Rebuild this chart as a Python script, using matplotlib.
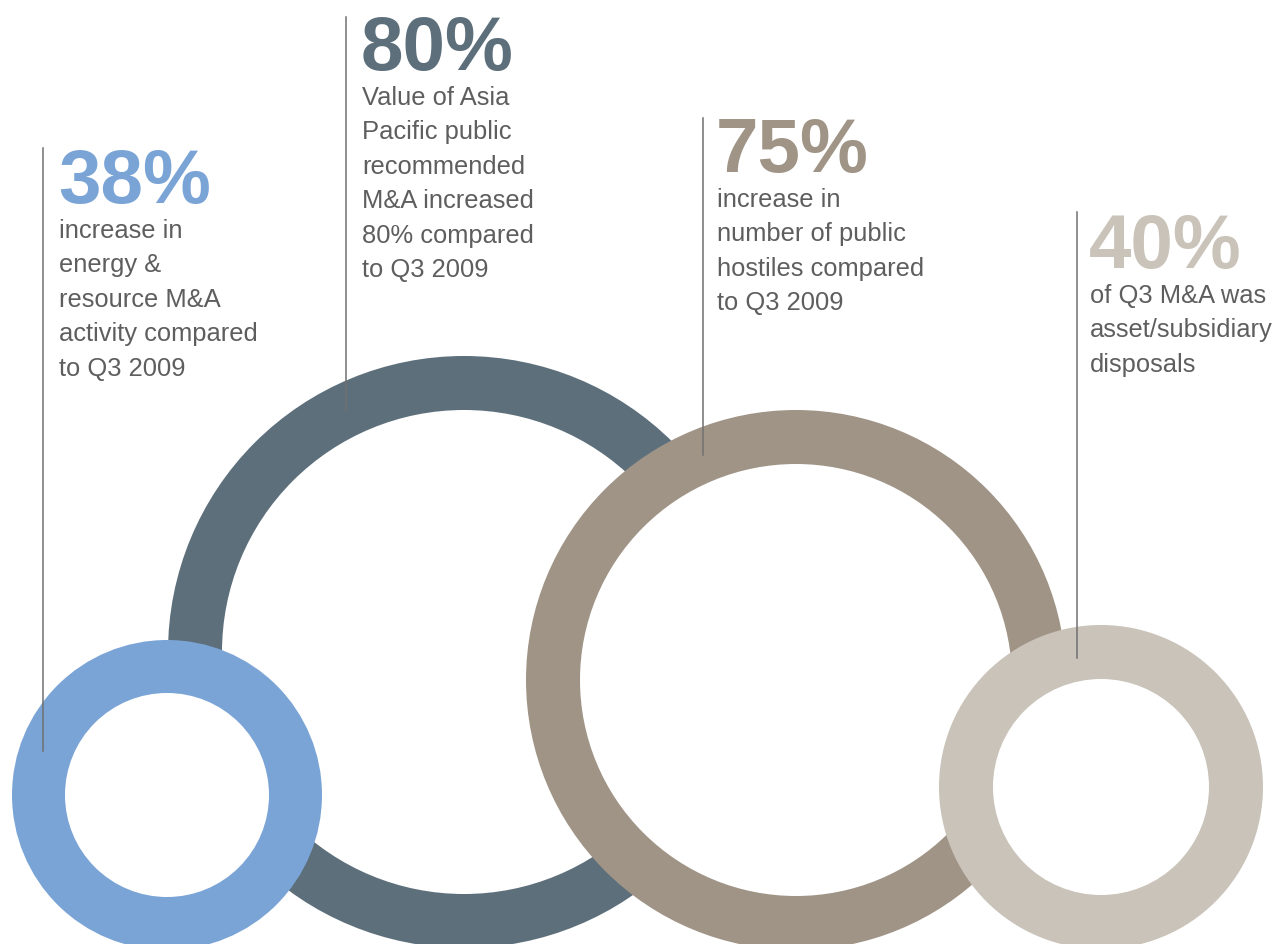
import matplotlib.pyplot as plt
from matplotlib.patches import Circle

# figures for each stat
values = [38, 80, 75, 40]
captions = [
    ["increase in", "energy &", "resource M&A", "activity compared", "to Q3 2009"],
    ["Value of Asia", "Pacific public", "recommended", "M&A increased",
     "80% compared", "to Q3 2009"],
    ["increase in", "number of public", "hostiles compared", "to Q3 2009"],
    ["of Q3 M&A was", "asset/subsidiary", "disposals"],
]
colors = ["#7BA4D6", "#5C6F7B", "#A09487", "#C9C3B9"]

# layout in pixel units (y grows downwards)
ring_centers = [(167, 795), (464, 652), (796, 680), (1101, 787)]
ring_outer = [155, 296, 270, 162]
ring_inner = [102, 242, 216, 108]
ring_z = [3, 1, 2, 4]
text_x = [59, 362, 717, 1090]
big_baseline = [203, 70, 172, 268]
rule_x = [43, 346, 703, 1077]
rule_y = [(148, 751), (17, 411), (118, 455), (212, 658)]

W, H = 1279, 944
fig = plt.figure(figsize=(W / 100, H / 100), dpi=100)
ax = fig.add_axes([0, 0, 1, 1])
ax.set_xlim(0, W)
ax.set_ylim(H, 0)
ax.axis("off")

# rings: solid disc with a white hole, stacked so later rings cover earlier ones
for i in range(len(values)):
    z = ring_z[i] * 2
    ax.add_patch(Circle(ring_centers[i], ring_outer[i], color=colors[i], lw=0, zorder=z))
    ax.add_patch(Circle(ring_centers[i], ring_inner[i], color="white", lw=0, zorder=z + 1))

body_color = "#5E5E5E"
line_step = 34.4
for i, v in enumerate(values):
    ax.plot([rule_x[i], rule_x[i]], rule_y[i], color="#707070", lw=1.1, zorder=20)
    ax.text(text_x[i] - 1, big_baseline[i], f"{v}%", color=colors[i], fontsize=55,
            fontweight="bold", family="Liberation Sans", ha="left", va="baseline",
            zorder=21)
    for j, line in enumerate(captions[i]):
        ax.text(text_x[i], big_baseline[i] + 35 + j * line_step, line,
                color=body_color, fontsize=18.4, family="Liberation Sans",
                ha="left", va="baseline", zorder=21)

fig.savefig("out.png", dpi=100, facecolor="white")
